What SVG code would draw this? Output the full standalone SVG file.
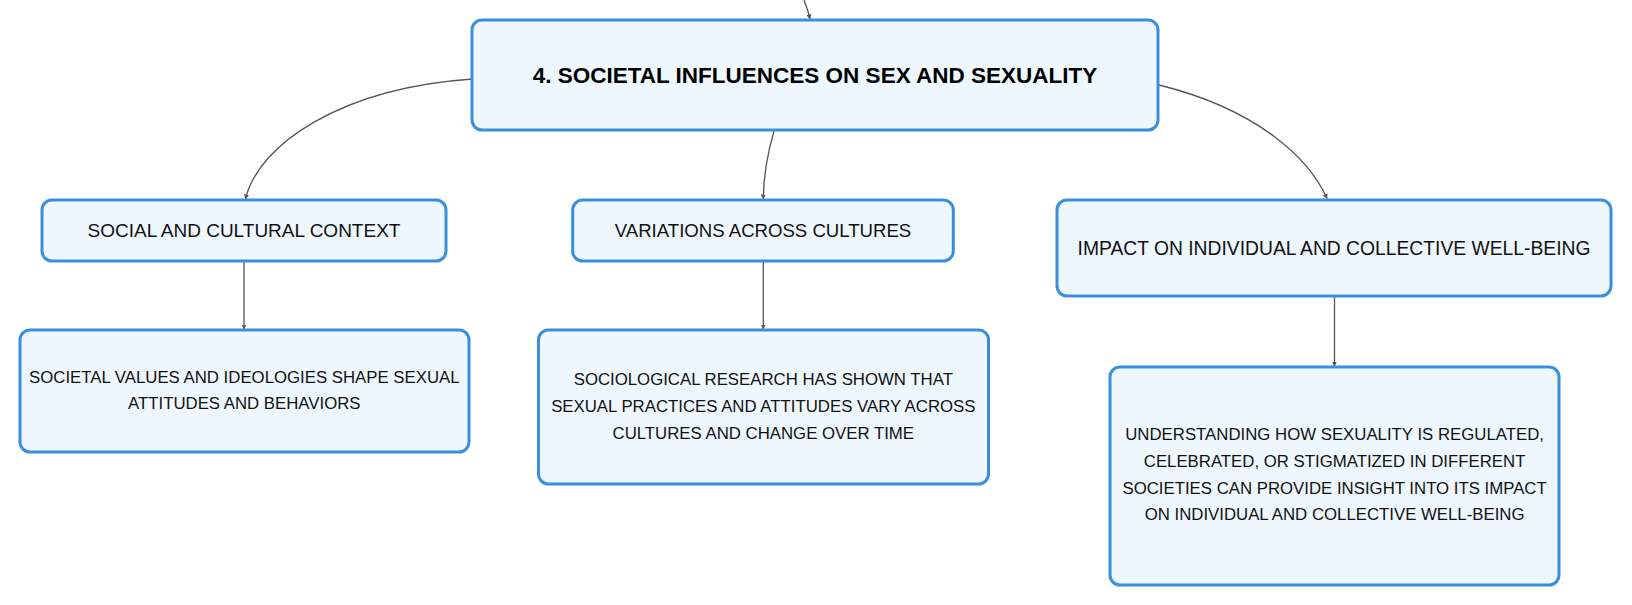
<svg xmlns="http://www.w3.org/2000/svg" width="1632" height="605" viewBox="0 0 1632 605">
<defs>
<style>
.box{fill:#eef7fe;stroke:#3a8fdc;stroke-width:3}
.t{font-family:"Liberation Sans",Arial,sans-serif;fill:#111;text-anchor:middle}
.title{font-size:22.5px;font-weight:bold;fill:#000}
.lab{font-size:18.6px}
.body{font-size:16.8px}
.edge{fill:none;stroke:#555;stroke-width:1.3}
</style>
<marker id="arr" viewBox="0 0 10 10" refX="9" refY="5" markerWidth="5" markerHeight="5" markerUnits="userSpaceOnUse" orient="auto">
<path d="M0 0L10 5L0 10z" fill="#555"/>
</marker>
</defs>
<rect width="1632" height="605" fill="#fff"/>
<g id="connectors">
<path class="edge" d="M804 0Q808 10 810 19" marker-end="url(#arr)"/>
<path class="edge" d="M472.7 79C340 88 258 145 245.5 199" marker-end="url(#arr)"/>
<path class="edge" d="M774 131C767 155 763.5 175 763.3 199" marker-end="url(#arr)"/>
<path class="edge" d="M1159 85C1260 110 1310 160 1327 198.5" marker-end="url(#arr)"/>
<path class="edge" d="M244 261V329" marker-end="url(#arr)"/>
<path class="edge" d="M763.3 261V329" marker-end="url(#arr)"/>
<path class="edge" d="M1334.5 296V366" marker-end="url(#arr)"/>
</g>
<g id="node-main">
<rect class="box" x="472" y="20" width="686" height="110" rx="10"/>
<text class="t title" x="815" y="82.5">4. SOCIETAL INFLUENCES ON SEX AND SEXUALITY</text>
</g>
<g id="node-social">
<rect class="box" x="42" y="200" width="404" height="61" rx="10"/>
<text class="t lab" x="244" y="236.8" style="font-size:19px">SOCIAL AND CULTURAL CONTEXT</text>
</g>
<g id="node-variations">
<rect class="box" x="572.7" y="200" width="380.6" height="61" rx="10"/>
<text class="t lab" x="763" y="236.8">VARIATIONS ACROSS CULTURES</text>
</g>
<g id="node-impact">
<rect class="box" x="1057" y="200" width="554" height="96" rx="10"/>
<text class="t lab" x="1334" y="254.9" style="font-size:19.3px">IMPACT ON INDIVIDUAL AND COLLECTIVE WELL-BEING</text>
</g>
<g id="node-values">
<rect class="box" x="20" y="330" width="449" height="122" rx="10"/>
<text class="t body" x="244.3" y="382.7">SOCIETAL VALUES AND IDEOLOGIES SHAPE SEXUAL</text>
<text class="t body" x="244.3" y="409.3">ATTITUDES AND BEHAVIORS</text>
</g>
<g id="node-research">
<rect class="box" x="538.5" y="330" width="450" height="154" rx="10"/>
<text class="t body" x="763.3" y="385">SOCIOLOGICAL RESEARCH HAS SHOWN THAT</text>
<text class="t body" x="763.3" y="411.8">SEXUAL PRACTICES AND ATTITUDES VARY ACROSS</text>
<text class="t body" x="763.3" y="438.6">CULTURES AND CHANGE OVER TIME</text>
</g>
<g id="node-understanding">
<rect class="box" x="1110" y="367" width="449" height="218" rx="10"/>
<text class="t body" x="1334.6" y="440">UNDERSTANDING HOW SEXUALITY IS REGULATED,</text>
<text class="t body" x="1334.6" y="466.8">CELEBRATED, OR STIGMATIZED IN DIFFERENT</text>
<text class="t body" x="1334.6" y="493.6">SOCIETIES CAN PROVIDE INSIGHT INTO ITS IMPACT</text>
<text class="t body" x="1334.6" y="520.4">ON INDIVIDUAL AND COLLECTIVE WELL-BEING</text>
</g>
</svg>
